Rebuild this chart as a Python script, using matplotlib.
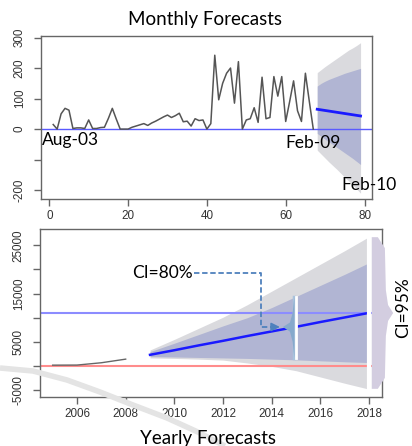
import matplotlib
matplotlib.use("Agg")
import matplotlib.pyplot as plt
from matplotlib.patches import Polygon

# monthly series (index 1..67)
months = list(range(1, 68))
monthly = [15, 0, 50, 68, 62, 2, 4, 4, 2, 30, 2, 2, 5, 6, 35, 68, 33, 0, 0, 0,
           6, 10, 14, 18, 12, 20, 26, 33, 40, 46, 38, 44, 52, 24, 26, 10, 34, 28, 30, 0,
           18, 242, 96, 150, 183, 200, 85, 221, 0, 30, 34, 70, 22, 170, 34, 38, 172, 108, 172, 25,
           90, 158, 60, 25, 183, 90, 0]
fc_months = list(range(68, 80))
fc_mean = [65, 63, 61, 59, 57, 55, 53, 51, 49, 47, 45, 43]
fc_lo80 = [-14, -24, -33, -42, -51, -60, -69, -78, -87, -96, -106, -116]
fc_hi80 = [141, 150, 157, 163, 168, 173, 178, 183, 187, 191, 195, 199]
fc_lo95 = [-69, -82, -95, -108, -120, -132, -145, -158, -170, -183, -196, -210]
fc_hi95 = [185, 195, 205, 214, 223, 232, 241, 250, 259, 266, 274, 283]

# yearly series
years = [2005, 2006, 2007, 2008]
yearly = [150, 170, 650, 1400]
fc_years = list(range(2009, 2019))
fy_mean = [2300, 3250, 4250, 5200, 6200, 7150, 8100, 9100, 10050, 11000]
fy_lo80 = [1930, 1850, 1750, 1650, 1550, 1400, 1250, 1050, 850, 690]
fy_hi80 = [2960, 4700, 6500, 8300, 10000, 12100, 14400, 16700, 19000, 21400]
fy_lo95 = [1650, 1550, 1400, 1200, 600, -100, -1000, -2300, -3600, -4830]
fy_hi95 = [3300, 5500, 7800, 10100, 12700, 15500, 18300, 21100, 23900, 26800]

grey95 = '#dadade'
blue80 = '#b1b5d3'
tick_font = 'Liberation Sans'
text_font = 'Lato'

fig = plt.figure(figsize=(4.12, 4.46), dpi=100)
ax1 = fig.add_axes([0.0995, 0.5538, 0.8034, 0.3655])
ax2 = fig.add_axes([0.0971, 0.1099, 0.8300, 0.3767])

for ax in (ax1, ax2):
    for s in ax.spines.values():
        s.set_color('#666666')
        s.set_linewidth(1)
    ax.tick_params(direction='out', length=5, width=1, color='#666666',
                   labelcolor='#333333', labelsize=8.4)
    ax.tick_params(axis='y', pad=6)
    ax.tick_params(axis='x', pad=3)

# --- top: monthly ---
ax1.fill_between(fc_months, fc_lo95, fc_hi95, color=grey95, lw=0)
ax1.fill_between(fc_months, fc_lo80, fc_hi80, color=blue80, lw=0)
ax1.axhline(0, color='#5a5aff', lw=1)
ax1.plot(months, monthly, color='#555555', lw=1.1)
ax1.plot(fc_months, fc_mean, color='#1a1aff', lw=2)
ax1.set_xlim(-2.1, 81.9)
ax1.set_ylim(-229, 305)
ax1.set_xticks([0, 20, 40, 60, 80])
ax1.set_yticks([-200, -100, 0, 100, 200, 300])
ax1.set_yticklabels(['-200', '', '0', '100', '200', '300'], rotation=90, va='center',
                    fontfamily=tick_font)
ax1.set_xticklabels(['0', '20', '40', '60', '80'], fontfamily=tick_font)

ax1.text(-1.8, -36, 'Aug-03', fontsize=12.5, family=text_font, va='center', ha='left')
ax1.text(60, -46, 'Feb-09', fontsize=12.5, family=text_font, va='center', ha='left')
ax1.text(74.2, -184, 'Feb-10', fontsize=12.5, family=text_font, va='center', ha='left')
fig.text(205 / 412, 1 - 20 / 446, 'Monthly Forecasts', fontsize=13.5, family=text_font,
         ha='center', va='center')

# --- bottom: yearly ---
ax2.fill_between(fc_years, fy_lo95, fy_hi95, color=grey95, lw=0)
ax2.fill_between(fc_years, fy_lo80, fy_hi80, color=blue80, lw=0)
ax2.axhline(11000, color='#8c8cff', lw=1.5)
ax2.axhline(0, color='#ff8c8c', lw=1.5)
ax2.plot(years, yearly, color='#666666', lw=1)
ax2.plot(fc_years, fy_mean, color='#1a1aff', lw=1.8)
ax2.plot([2018, 2018], [fy_lo95[-1], fy_hi95[-1]], color='white', lw=3, zorder=4)
ax2.set_xlim(2004.48, 2018.53)
ax2.set_ylim(-6450, 28400)
ax2.set_xticks(range(2006, 2019, 2))
ax2.set_xticklabels([str(y) for y in range(2006, 2019, 2)], fontfamily=tick_font)
ax2.set_yticks(range(-5000, 25001, 5000))
ax2.set_yticklabels(['-5000', '', '5000', '', '15000', '', '25000'], rotation=90,
                    va='center', fontfamily=tick_font)

# CI=80% marker at 2015
ax2.plot([2014.92, 2014.92], [1700, 14300], color='#a9c2dc', lw=2.5, zorder=4)
ax2.plot([2015.0, 2015.0], [1700, 14300], color='white', lw=2, zorder=5)
cusp = Polygon([(2014.93, 14300), (2014.86, 11000), (2014.75, 9000), (2014.46, 8070),
                (2014.75, 7100), (2014.86, 5000), (2014.93, 1700)],
               closed=True, color='#86a9cc', lw=0, zorder=4)
ax2.add_patch(cusp)
dash_c = '#4f81bd'
ax2.plot([2010.8, 2013.56, 2013.56, 2014.0], [19250, 19250, 8070, 8070],
         color=dash_c, lw=1.3, ls=(0, (3, 1.5)), zorder=6)
ax2.annotate('', xy=(2014.45, 8070), xytext=(2013.95, 8070),
             arrowprops=dict(arrowstyle='-|>,head_length=0.5,head_width=0.25',
                             color=dash_c, lw=1.2), zorder=6)
ax2.text(2010.76, 19250, 'CI=80%', fontsize=12.5, family=text_font, ha='right', va='center')

# CI=95% brace
brace = Polygon([(2018.11, 26700), (2018.36, 26700), (2018.65, 24430), (2018.69, 15730),
                 (2018.78, 12630), (2018.99, 10970), (2018.78, 9320), (2018.69, 6210),
                 (2018.65, -2480), (2018.36, -4760), (2018.11, -4760)],
                closed=True, color='#d3cde0', lw=0, zorder=3, clip_on=False)
ax2.add_patch(brace)
ax2.text(2019.39, 12000, 'CI=95%', fontsize=12.5, family=text_font, rotation=90,
         ha='center', va='center', clip_on=False)

fig.text(208 / 412, 1 - 444 / 446, 'Yearly Forecasts', fontsize=13.5, family=text_font,
         ha='center', va='baseline')

# light swoosh in the lower left corner
sx = [0, 33, 67, 100, 133, 167, 200, 213, 225]
sy = [368, 371, 380, 392, 405, 418, 433, 440, 446]
fig.add_artist(plt.Line2D([x / 412 for x in sx], [1 - y / 446 for y in sy],
                          color='#e4e4e4', lw=4, solid_capstyle='butt', zorder=0.5))

fig.savefig('out.png', dpi=100)
